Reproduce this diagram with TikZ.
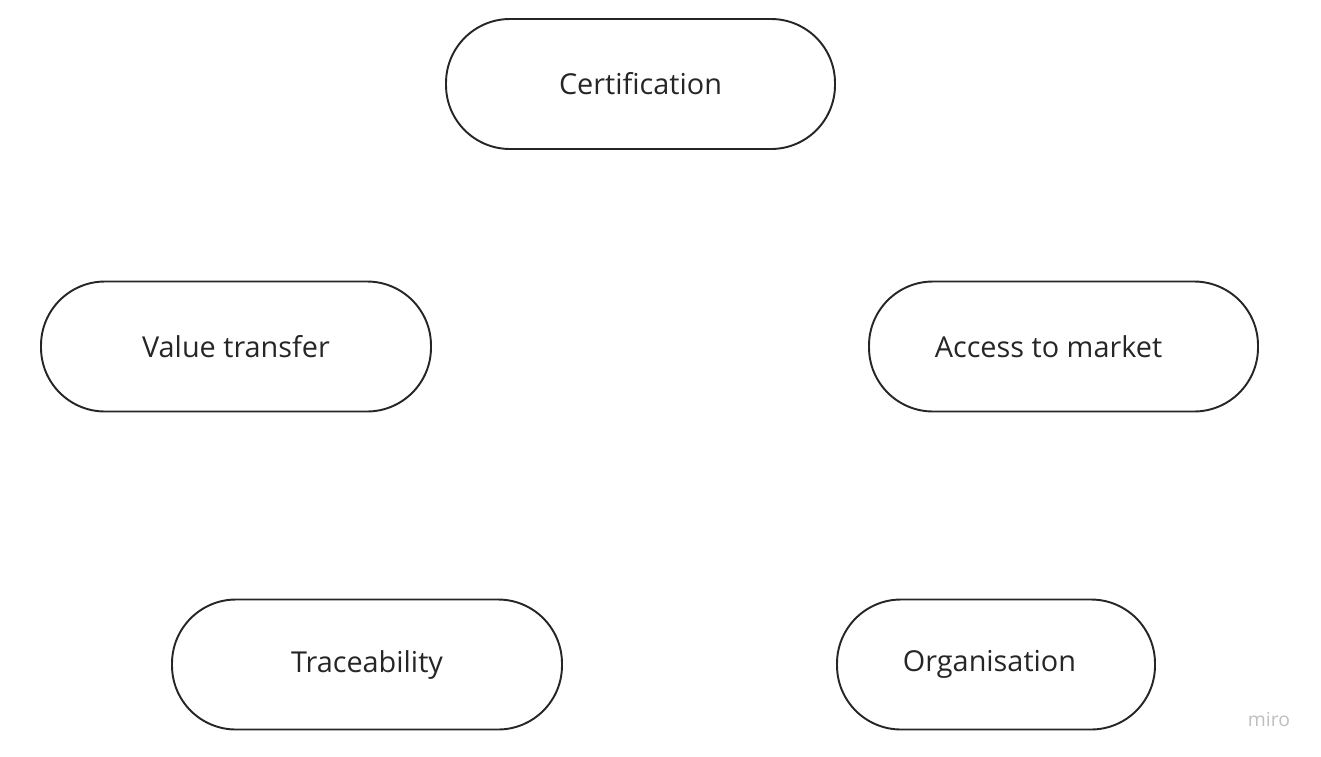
\documentclass[tikz,border=0pt]{standalone}
\usepackage{fontspec}
\setmainfont{Open Sans}
\begin{document}
\begin{tikzpicture}[pill/.style={draw=black!85, line width=1.1pt, rounded corners=1.28cm,
      minimum height=2.6cm, minimum width=7.8cm, inner sep=0pt,
      font=\fontsize{16.4}{19}\selectfont, text=black!85}]
      \useasboundingbox (0,0) rectangle (26.42,-15.12);

      \node[pill, minimum width=7.78cm] (cert) at (12.81,-1.68) {Certification};

      \node[pill] (value) at (4.72,-6.93) {Value transfer};
      \node[pill, minimum width=7.78cm] (access) at (21.27,-6.93) {Access to market\kern0.6cm};

      \node[pill] (trace) at (7.34,-13.29) {Traceability};
      \node[pill, minimum width=6.36cm] (org) at (19.92,-13.29) {Organisation\kern0.26cm};

      \node[text=black!25, font=\fontsize{11}{13}\selectfont] (miro) at (25.38,-14.38) {miro};
    \end{tikzpicture}
\end{document}
